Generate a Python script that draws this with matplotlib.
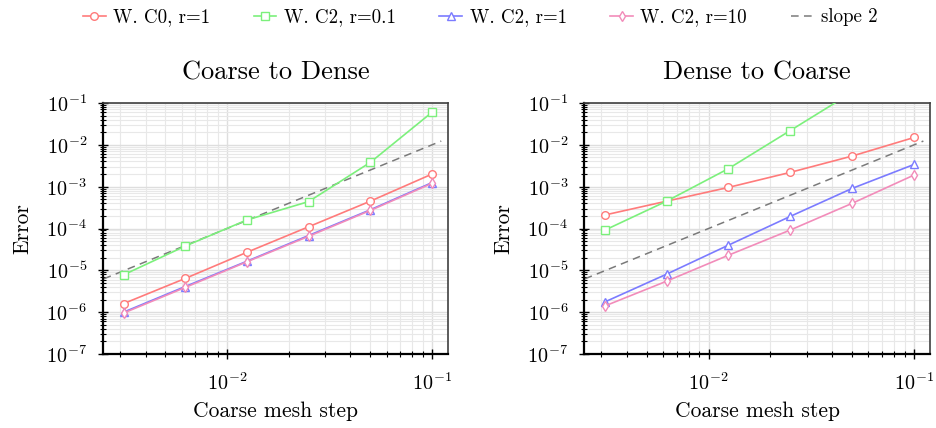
import matplotlib
matplotlib.use('Agg')
import matplotlib.pyplot as plt
import numpy as np
from matplotlib.ticker import LogLocator, NullFormatter

plt.rcParams['font.family'] = ['cmr10', 'DejaVu Serif']
plt.rcParams['mathtext.fontset'] = 'cm'
plt.rcParams['axes.formatter.use_mathtext'] = True

# mesh steps and errors
h = [0.003125, 0.00625, 0.0125, 0.025, 0.05, 0.1]

c2d_c0_r1 = [1.6e-6, 6.4e-6, 2.7e-5, 1.1e-4, 4.5e-4, 2.0e-3]
c2d_c2_r01 = [7.8e-6, 3.8e-5, 1.6e-4, 4.4e-4, 3.8e-3, 6.0e-2]
c2d_c2_r1 = [1.0e-6, 4.1e-6, 1.65e-5, 6.8e-5, 2.8e-4, 1.25e-3]
c2d_c2_r10 = [0.95e-6, 3.9e-6, 1.6e-5, 6.5e-5, 2.7e-4, 1.2e-3]

d2c_c0_r1 = [2.1e-4, 4.5e-4, 9.6e-4, 2.2e-3, 5.4e-3, 1.5e-2]
d2c_c2_r01 = [9.1e-5, 4.5e-4, 2.7e-3, 2.2e-2, 1.8e-1, 1.4]
d2c_c2_r1 = [1.75e-6, 8.1e-6, 4.0e-5, 1.95e-4, 9.1e-4, 3.4e-3]
d2c_c2_r10 = [1.4e-6, 5.5e-6, 2.3e-5, 9.2e-5, 4.0e-4, 1.9e-3]

# reference line err = h^2
slope_h = [0.0025, 0.111]
slope_err = [6.25e-6, 0.012321]

labels = ['W. C0, r=1', 'W. C2, r=0.1', 'W. C2, r=1', 'W. C2, r=10']
colors = ['#ff7b7b', '#7cf07c', '#7b7bff', '#f28cba']
markers = ['o', 's', '^', 'd']

fig = plt.figure(figsize=(9.36, 4.28), dpi=100)
ax1 = fig.add_axes([0.110, 0.1729, 0.3686, 0.5864])
ax2 = fig.add_axes([0.624, 0.1729, 0.3697, 0.5864])

panels = [
    (ax1, 'Coarse to Dense', [c2d_c0_r1, c2d_c2_r01, c2d_c2_r1, c2d_c2_r10]),
    (ax2, 'Dense to Coarse', [d2c_c0_r1, d2c_c2_r01, d2c_c2_r1, d2c_c2_r10]),
]

for ax, title, series in panels:
    for err, lab, col, mk in zip(series, labels, colors, markers):
        ax.plot(h, err, color=col, marker=mk, markersize=5.5, mfc='white',
                mec=col, mew=1.0, lw=1.2, label=lab, zorder=3)
    ax.plot(slope_h, slope_err, color='#7a7a7a', lw=1.1,
            linestyle=(0, (5, 3.5)), label='slope 2', zorder=2)

    ax.set_xscale('log')
    ax.set_yscale('log')
    ax.set_xlim(0.00248, 0.1197)
    ax.set_ylim(1e-7, 1e-1)

    ax.yaxis.set_major_locator(LogLocator(base=10, numticks=100))
    ax.yaxis.set_minor_locator(LogLocator(base=10, subs=np.arange(2, 10), numticks=100))
    ax.yaxis.set_minor_formatter(NullFormatter())
    ax.xaxis.set_minor_locator(LogLocator(base=10, subs=np.arange(2, 10), numticks=100))
    ax.xaxis.set_minor_formatter(NullFormatter())

    ax.grid(True, which='major', color='#dedede', lw=1.0, zorder=0)
    ax.grid(True, which='minor', color='#e8e8e8', lw=0.8, zorder=0)
    ax.set_axisbelow(True)

    ax.tick_params(which='both', direction='inout', top=False, right=False,
                   color='black', labelsize=14.5)
    ax.tick_params(which='major', length=7, width=1.0)
    ax.tick_params(which='minor', length=5, width=0.8)
    ax.tick_params(axis='x', pad=10)
    ax.tick_params(axis='y', pad=8)

    for side in ['left', 'bottom']:
        ax.spines[side].set_color('black')
        ax.spines[side].set_linewidth(1.6)
    for side in ['top', 'right']:
        ax.spines[side].set_color('#404040')
        ax.spines[side].set_linewidth(1.2)

    ax.set_title(title, fontsize=19, pad=17)
    ax.set_xlabel('Coarse mesh step', fontsize=15.5, labelpad=5)
    ax.set_ylabel('Error', fontsize=15.5)
    ax.yaxis.set_label_coords(-0.205, 0.5)

handles, labs = ax1.get_legend_handles_labels()
fig.legend(handles, labs, loc='center', bbox_to_anchor=(0.513, 0.96), ncol=5,
           frameon=False, fontsize=13.6, handlelength=1.2, handletextpad=0.4,
           columnspacing=2.3)

fig.savefig('out.png', dpi=100)
